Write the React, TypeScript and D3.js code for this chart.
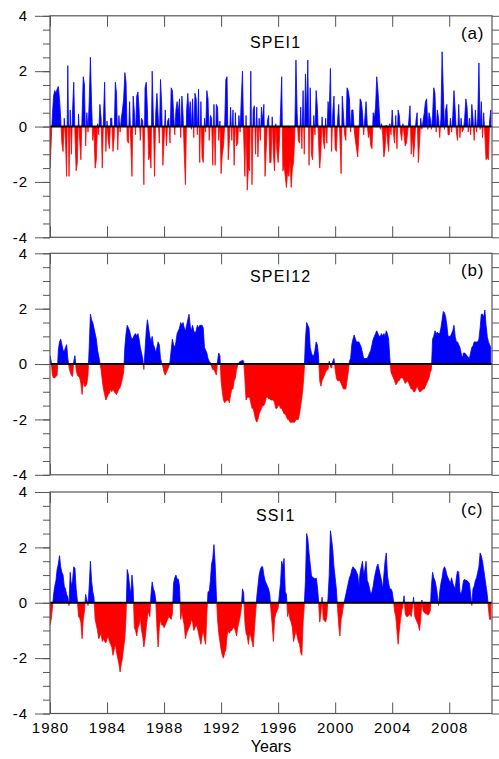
import * as d3 from 'd3';
import { useEffect, useRef } from 'react';

// monthly index values, Jan 1980 .. Dec 2010, one row per year
const spei1 = [
  -1.5, -0.6, 0.4, 1.1, 1.3, 1.2, 1.35, 1.45, 1.0, 0.3, -0.6, -0.9, // 1980
  0.3, -0.5, -1.8, 2.2, -1.8, 0.6, -1.0, 0.6, 1.6, -0.3, -1.6, -1.3, // 1981
  0.45, -0.5, -1.2, 0.4, 1.8, 1.5, -0.7, 0.5, -0.2, 0.9, 2.5, 0.8, // 1982
  -0.5, -0.1, -1.5, -1.2, 0.1, -0.3, 0.8, 0.3, -1.5, 0.3, 1.6, -0.9, // 1983
  0.2, -0.5, -0.8, 0.3, 0.3, -0.9, -0.4, 1.6, 1.2, -0.85, 0.4, -0.2, // 1984
  0.3, 0.6, 1.0, 1.95, 1.6, -0.5, -0.6, 0.9, -0.6, -1.8, 1.1, 0.5, // 1985
  -0.3, 1.1, 1.25, 0.6, -0.5, 0.3, 0.2, -2.1, 1.4, 1.6, 0.6, -1.2, // 1986
  -1.0, -1.5, 2.0, 0.3, -1.8, 0.5, 1.2, 0.4, -0.6, 1.7, 0.8, -1.4, // 1987
  -0.5, 0.6, -0.7, 0.2, 0.3, -0.6, 1.4, 1.3, 0.5, -0.3, 0.6, 0.9, // 1988
  0.5, 1.0, -0.4, 1.1, 0.4, -1.0, -2.1, 0.6, 1.2, 0.4, 0.9, -0.1, // 1989
  1.0, -0.4, 1.2, 1.0, -0.3, 1.35, -1.3, 0.9, -1.1, -1.3, 0.3, -0.2, // 1990
  1.3, 1.0, -0.5, 0.4, 0.3, -1.4, 0.8, -1.4, 0.8, 0.7, -0.5, 0.2, // 1991
  -1.7, -1.0, -0.7, 0.05, 1.7, 1.8, -1.2, -0.5, 0.7, -0.5, 0.6, -1.4, // 1992
  0.5, -0.7, -0.6, 0.4, -0.2, 1.0, 2.0, -0.3, -1.8, 0.4, -2.3, -1.5, // 1993
  -1.6, 2.0, -2.1, 0.6, 0.75, -1.0, 0.7, -1.1, 0.3, -0.5, 0.7, 0.2, // 1994
  0.8, -1.8, -0.8, 0.2, 0.4, -1.3, -1.3, 0.35, -1.0, -1.6, 0.1, -0.9, // 1995
  -1.3, -0.6, 0.5, 1.8, -1.6, -1.4, -1.8, -2.2, -1.6, -1.8, -1.2, -2.2, // 1996
  -1.5, -1.3, -0.3, 2.4, 0.5, -0.5, -0.6, 0.7, -0.8, 1.3, -1.0, 1.9, // 1997
  0.4, 2.4, -1.4, 1.4, -1.0, -1.2, 0.4, -0.3, 1.3, 0.7, -0.5, -1.5, // 1998
  -0.9, 0.35, -0.5, -0.8, 0.3, -0.6, 0.9, 0.5, 2.1, -0.9, 0.5, 1.1, // 1999
  -0.8, -0.9, 0.2, 0.8, -0.4, -1.7, 1.1, 0.4, -0.3, -0.5, 1.4, 1.3, // 2000
  1.0, -0.2, 0.6, 0.6, -0.1, -0.5, -0.8, -1.1, -0.3, 1.0, 0.9, 0.5, // 2001
  -0.3, 0.3, 0.9, 0.1, -0.4, -0.2, -0.7, -0.8, 0.5, 0.3, 0.7, 1.8, // 2002
  1.3, 0.6, -0.1, 0.1, -0.3, -1.1, -0.8, 0.05, -0.5, -0.9, 0.1, -0.3, // 2003
  0.6, -0.2, -0.6, 0.4, -0.8, 0.6, 0.4, -0.2, -0.5, 0.1, -0.3, -0.7, // 2004
  -0.6, -0.2, 0.2, 0.75, -1.0, -0.3, -1.1, -0.5, 0.2, 0.5, -1.3, -0.6, // 2005
  0.3, -0.1, 0.2, 0.5, 0.9, 1.0, -0.1, 0.5, 0.3, -0.1, 0.4, 1.4, // 2006
  1.2, -0.2, 0.6, 0.3, -0.4, 0.3, 2.7, 1.3, -0.1, 0.6, 0.8, -0.3, // 2007
  -0.3, 0.3, -0.2, 0.4, 1.3, 0.6, -0.2, -0.5, 0.8, -0.4, 0.3, -0.2, // 2008
  -0.1, 0.3, 1.0, 0.7, -0.2, 0.3, -0.3, 0.8, 0.3, -0.5, 0.6, -0.2, // 2009
  0.3, 2.3, -0.1, 0.9, -0.4, 0.5, -0.3, -1.2, -1.1, -1.2, 0.2, 0.6, // 2010
];

const spei12 = [
  0.3, 0.1, -0.4, -0.5, -0.5, -0.45, -0.4, 0.5, 0.8, 0.9, 0.7, 0.5, // 1980
  0.45, 0.6, 0.7, 0.2, -0.1, -0.3, -0.4, -0.45, 0.1, 0.3, -0.2, -0.4, // 1981
  -0.45, -0.5, -0.7, -1.1, -0.6, -0.8, -0.8, -0.7, -0.4, 0.6, 1.8, 1.6, // 1982
  1.5, 1.3, 1.1, 0.9, 0.5, 0.3, 0.05, -0.2, -0.6, -0.9, -1.1, -1.3, // 1983
  -1.2, -1.1, -1.05, -0.9, -1.0, -0.9, -1.0, -1.05, -1.1, -1.0, -0.9, -0.85, // 1984
  -0.7, -0.5, -0.3, 0.6, 1.1, 1.4, 1.3, 1.2, 1.0, 0.9, 0.95, 1.05, // 1985
  1.1, 1.0, 1.1, 0.9, 0.6, 0.4, 0.2, -0.2, 0.5, 1.2, 1.6, 1.3, // 1986
  1.0, 0.8, 1.0, 0.7, 0.6, 0.4, 0.6, 0.8, 0.7, 0.2, 0.05, -0.1, // 1987
  -0.3, -0.4, -0.3, -0.2, -0.1, 0.1, 0.5, 0.9, 0.7, 0.6, 0.8, 1.1, // 1988
  1.2, 1.3, 1.5, 1.4, 1.5, 1.3, 1.2, 1.4, 1.6, 1.8, 1.4, 1.2, // 1989
  1.4, 1.2, 1.1, 1.2, 1.4, 1.3, 1.4, 1.4, 1.4, 1.3, 0.6, 0.5, // 1990
  0.4, 0.2, 0.1, 0.05, -0.1, -0.2, -0.2, -0.3, -0.4, 0.1, 0.4, 0.3, // 1991
  -0.6, -1.0, -1.3, -1.4, -1.35, -1.3, -1.3, -1.4, -1.1, -0.9, -0.9, -0.6, // 1992
  -0.5, -0.2, -0.05, 0.05, 0.1, 0.1, 0.15, 0.1, -0.5, -1.3, -1.2, -1.2, // 1993
  -1.2, -1.4, -1.6, -1.6, -1.8, -2.0, -2.1, -2.0, -1.8, -1.7, -1.6, -1.5, // 1994
  -1.5, -1.4, -1.2, -1.2, -1.25, -1.25, -1.3, -1.3, -1.3, -1.4, -1.6, -1.6, // 1995
  -1.5, -1.5, -1.6, -1.6, -1.7, -1.8, -1.8, -1.9, -2.0, -2.0, -2.1, -2.1, // 1996
  -2.1, -2.1, -2.1, -2.0, -2.0, -2.0, -1.8, -1.5, -1.2, -0.8, -0.2, 0.9, // 1997
  1.5, 1.4, 1.3, 0.6, 0.4, 0.3, 0.3, 0.5, 0.8, 0.7, 0.3, -0.6, // 1998
  -0.8, -0.6, -0.5, -0.4, -0.3, -0.2, -0.2, 0.1, -0.1, -0.15, 0.1, 0.2, // 1999
  -0.2, -0.5, -0.6, -0.6, -0.6, -0.7, -0.8, -0.9, -0.9, -0.9, -0.6, -0.3, // 2000
  0.1, 0.2, 0.7, 0.9, 1.05, 0.9, 0.8, 0.8, 0.8, 0.7, 0.6, 0.4, // 2001
  0.2, 0.2, 0.2, 0.2, 0.3, 0.4, 0.5, 0.7, 0.9, 1.0, 1.1, 1.2, // 2002
  1.1, 1.0, 1.0, 1.1, 1.0, 1.1, 1.0, 1.2, 1.1, 0.9, 0.2, -0.3, // 2003
  -0.4, -0.5, -0.6, -0.75, -0.7, -0.6, -0.6, -0.5, -0.5, -0.5, -0.6, -0.7, // 2004
  -0.65, -0.6, -0.7, -0.8, -0.9, -0.9, -1.0, -1.0, -0.9, -0.8, -0.9, -1.0, // 2005
  -1.0, -0.95, -0.9, -0.9, -0.8, -0.7, -0.6, -0.5, -0.3, -0.2, 0.9, 1.0, // 2006
  1.2, 1.1, 1.15, 1.1, 1.1, 1.3, 1.6, 1.9, 1.85, 1.7, 1.4, 1.0, // 2007
  1.0, 1.0, 1.1, 1.2, 1.4, 1.0, 0.8, 0.8, 0.7, 0.6, 0.4, 0.2, // 2008
  0.4, 0.4, 0.35, 0.3, 0.25, 0.2, 0.4, 0.6, 0.65, 0.8, 0.8, 0.8, // 2009
  0.8, 0.9, 1.3, 1.8, 1.8, 1.7, 1.95, 1.4, 1.0, 0.8, 0.7, 0.6, // 2010
];

const ssi1 = [
  -0.8, -0.6, -0.2, 0.3, 0.6, 0.8, 1.2, 1.4, 1.7, 1.3, 1.1, 1.0, // 1980
  0.6, 0.5, 0.3, 0.2, -0.1, 1.1, 0.6, 0.8, 1.3, 1.25, 0.5, 0.1, // 1981
  -0.5, -0.55, -0.7, -1.3, -0.6, -0.3, 0.3, 0.1, -0.1, 0.6, 1.5, 0.8, // 1982
  0.4, 0.2, -0.6, -0.8, -1.0, -1.3, -1.2, -1.1, -1.4, -1.3, -1.4, -1.45, // 1983
  -1.3, -1.2, -1.4, -1.5, -1.6, -1.9, -1.7, -1.5, -1.8, -2.0, -2.2, -2.5, // 1984
  -2.2, -2.0, -1.6, -1.3, -0.5, 1.2, 1.0, 0.6, 0.3, 1.0, 0.5, -0.9, // 1985
  -1.0, -1.2, -0.9, -0.8, -0.5, -1.0, -1.2, -1.6, -1.3, -0.9, -0.5, -0.3, // 1986
  -0.5, 0.3, 0.75, 0.5, 0.4, 0.1, -0.9, -1.6, -0.9, -0.6, -0.8, -0.8, // 1987
  -0.9, -0.8, -0.7, -0.6, -0.5, -0.55, -0.6, -0.4, 0.7, 0.9, 1.0, 0.85, // 1988
  0.85, 0.6, -0.6, -0.3, -0.6, -0.8, -1.3, -1.1, -1.0, -0.9, -0.8, -0.6, // 1989
  -0.7, -1.0, -0.9, -0.8, -0.9, -1.1, -1.3, -1.5, -1.2, -1.0, -1.3, -1.5, // 1990
  -0.4, 0.4, 0.4, 0.8, 1.4, 1.6, 2.1, 1.4, 0.3, -0.6, -1.1, -1.4, // 1991
  -1.7, -1.9, -2.0, -1.8, -1.7, -1.2, -1.0, -1.1, -1.0, -1.0, -0.9, -0.9, // 1992
  -1.0, -1.2, -0.9, -0.7, -0.5, -0.2, 0.5, 0.35, -0.7, -1.1, -1.2, -1.5, // 1993
  -1.1, -1.2, -1.4, -1.6, -1.0, -0.4, 0.2, 0.6, 1.0, 1.2, 1.3, 1.3, // 1994
  1.0, 0.8, 0.7, 0.6, 0.5, 0.3, -0.3, -0.8, -1.4, -0.6, -0.4, -0.3, // 1995
  -0.2, 0.3, 0.7, 1.5, 1.3, 1.6, 0.4, 0.3, -0.5, -0.3, -0.6, -0.7, // 1996
  -0.9, -1.4, -1.2, -1.0, -1.2, -1.4, -1.5, -1.8, -1.9, -0.7, -0.1, 0.8, // 1997
  2.5, 2.3, 1.8, 1.4, 1.0, 0.9, 0.9, 0.85, 0.9, 0.6, 0.1, -0.7, // 1998
  -0.4, 0.2, -0.6, -0.65, -0.7, -0.5, 0.2, 1.0, 2.6, 2.3, 1.9, 1.3, // 1999
  0.9, 0.5, -0.2, -0.8, -1.2, -0.6, -0.4, -0.1, 0.1, 0.3, 0.5, 0.7, // 2000
  0.9, 1.0, 1.2, 1.3, 1.25, 1.2, 1.1, 1.0, 0.6, 1.1, 1.3, 1.5, // 2001
  1.0, 1.2, 1.5, 0.8, 0.7, 0.5, 0.3, 0.4, 0.6, 0.9, 1.1, 1.3, // 2002
  1.4, 1.2, 1.0, 0.8, 0.5, 1.0, 1.5, 1.8, 1.0, 0.7, 0.5, 0.5, // 2003
  0.4, 0.1, -0.3, -0.5, -1.0, -1.5, -1.0, -0.6, -0.3, -0.1, 0.25, -0.4, // 2004
  -0.5, -0.5, -0.45, -0.4, -0.5, -0.2, 0.2, -0.5, -0.6, -0.7, -0.8, -1.0, // 2005
  -0.6, 0.1, -0.3, -0.35, -0.4, -0.4, -0.45, -0.4, -0.3, 0.6, 1.1, 0.9, // 2006
  0.8, 0.6, 0.3, -0.1, 0.4, 0.7, 0.9, 1.2, 1.3, 1.2, 1.0, 0.9, // 2007
  0.8, 0.7, 0.9, 0.7, 0.6, 0.5, 0.9, 1.15, 1.1, 0.4, 0.3, 0.5, // 2008
  0.8, 0.85, 0.8, 0.8, 0.75, 0.7, 0.3, -0.1, 0.5, 0.6, 0.8, 0.9, // 2009
  1.1, 1.3, 1.8, 1.7, 1.5, 1.2, 0.9, 0.6, 0.3, -0.2, -0.6, -0.6, // 2010
];

const panelSeries = [spei1, spei12, ssi1];
const panelTitles = ['SPEI1', 'SPEI12', 'SSI1'];
const panelTags = ['(a)', '(b)', '(c)'];
const yearTicks = [1980, 1984, 1988, 1992, 1996, 2000, 2004, 2008];
const yLabelTicks = [-4, -2, 0, 2, 4];

const App = () => {
  const svgRef = useRef<SVGSVGElement>(null);

  useEffect(() => {
    const width = 499;
    const height = 759;
    const marginLeft = 50;
    const plotRight = 492;
    const panelTops = [15.8, 253.3, 492];
    const panelHeight = 221.5;
    const titleX = [250, 250, 256];
    const titleDy = [27, 23.5, 23.5];
    const font = 'Arial, "Liberation Sans", sans-serif';
    const frameColor = '#555';

    const svg = d3.select(svgRef.current);
    svg.selectAll('*').remove();
    svg.attr('width', width).attr('height', height);
    const defs = svg.append('defs');

    const x = d3.scaleLinear([1980, 2011], [marginLeft, plotRight]);
    const minorTicks = d3.range(-4, 4.01, 0.5);

    panelSeries.forEach((values, p) => {
      const top = panelTops[p];
      const bottom = top + panelHeight;
      const y = d3.scaleLinear([-4, 4], [bottom, top]);
      const g = svg.append('g');

      // clip regions above and below zero
      defs.append('clipPath').attr('id', `up-${p}`)
        .append('rect')
        .attr('x', marginLeft).attr('y', top)
        .attr('width', plotRight - marginLeft).attr('height', y(0) - top);
      defs.append('clipPath').attr('id', `down-${p}`)
        .append('rect')
        .attr('x', marginLeft).attr('y', y(0))
        .attr('width', plotRight - marginLeft).attr('height', bottom - y(0));

      const area = d3.area<number>()
        .x((_, i) => x(1980 + i / 12))
        .y0(y(0))
        .y1((d) => y(d));

      g.append('path').datum(values)
        .attr('d', area)
        .attr('fill', '#0000ff')
        .attr('stroke', '#0000ff')
        .attr('stroke-width', 0.8)
        .attr('clip-path', `url(#up-${p})`);
      g.append('path').datum(values)
        .attr('d', area)
        .attr('fill', '#ff0000')
        .attr('stroke', '#ff0000')
        .attr('stroke-width', 0.8)
        .attr('clip-path', `url(#down-${p})`);

      // zero line
      g.append('line')
        .attr('x1', marginLeft).attr('x2', plotRight)
        .attr('y1', y(0)).attr('y2', y(0))
        .attr('stroke', '#000').attr('stroke-width', 2);

      const styleAxis = (a: d3.Selection<SVGGElement, unknown, null, undefined>) => {
        a.select('.domain').remove();
        a.selectAll('.tick line').attr('stroke', frameColor);
        a.selectAll('.tick text')
          .attr('font-size', 15)
          .attr('font-family', font)
          .attr('letter-spacing', 1)
          .attr('fill', '#000');
      };

      // left: minor and labelled ticks
      g.append('g').attr('transform', `translate(${marginLeft},0)`)
        .call(d3.axisLeft(y).tickValues(minorTicks).tickSize(7).tickFormat(() => ''))
        .call(styleAxis);
      g.append('g').attr('transform', `translate(${marginLeft},0)`)
        .call(d3.axisLeft(y).tickValues(yLabelTicks).tickSize(15).tickPadding(7)
          .tickFormat((d) => String(d)))
        .call(styleAxis);

      // right ticks
      g.append('g').attr('transform', `translate(${plotRight},0)`)
        .call(d3.axisRight(y).tickValues(minorTicks).tickSize(7).tickFormat(() => ''))
        .call(styleAxis);

      // year ticks, inward at top and bottom
      g.append('g').attr('transform', `translate(0,${top})`)
        .call(d3.axisBottom(x).tickValues(yearTicks).tickSize(11).tickFormat(() => ''))
        .call(styleAxis);
      g.append('g').attr('transform', `translate(0,${bottom})`)
        .call(d3.axisTop(x).tickValues(yearTicks).tickSize(11).tickFormat(() => ''))
        .call(styleAxis);

      if (p === panelSeries.length - 1) {
        g.append('g').attr('transform', `translate(0,${bottom})`)
          .call(d3.axisBottom(x).tickValues(yearTicks).tickSize(0).tickPadding(9)
            .tickFormat((d) => String(d)))
          .call(styleAxis);
      }

      // frame
      g.append('rect')
        .attr('x', marginLeft).attr('y', top)
        .attr('width', plotRight - marginLeft).attr('height', panelHeight)
        .attr('fill', 'none')
        .attr('stroke', frameColor)
        .attr('stroke-width', 1.2);

      g.append('text')
        .attr('x', titleX[p]).attr('y', top + titleDy[p])
        .attr('dy', '0.35em')
        .attr('font-size', 16).attr('font-family', font)
        .attr('letter-spacing', 1.2)
        .text(panelTitles[p]);
      g.append('text')
        .attr('x', 461).attr('y', top + 17)
        .attr('dy', '0.35em')
        .attr('font-size', 17).attr('font-family', font)
        .attr('letter-spacing', 0.8)
        .text(panelTags[p]);
    });

    svg.append('text')
      .attr('x', 271).attr('y', 752)
      .attr('text-anchor', 'middle')
      .attr('font-size', 16).attr('font-family', 'Arial, "Liberation Sans", sans-serif')
      .text('Years');
  }, []);

  return (
    <svg ref={svgRef} style={{ position: 'absolute', left: 0, top: 0, background: '#fff' }} />
  );
};

export default App;
